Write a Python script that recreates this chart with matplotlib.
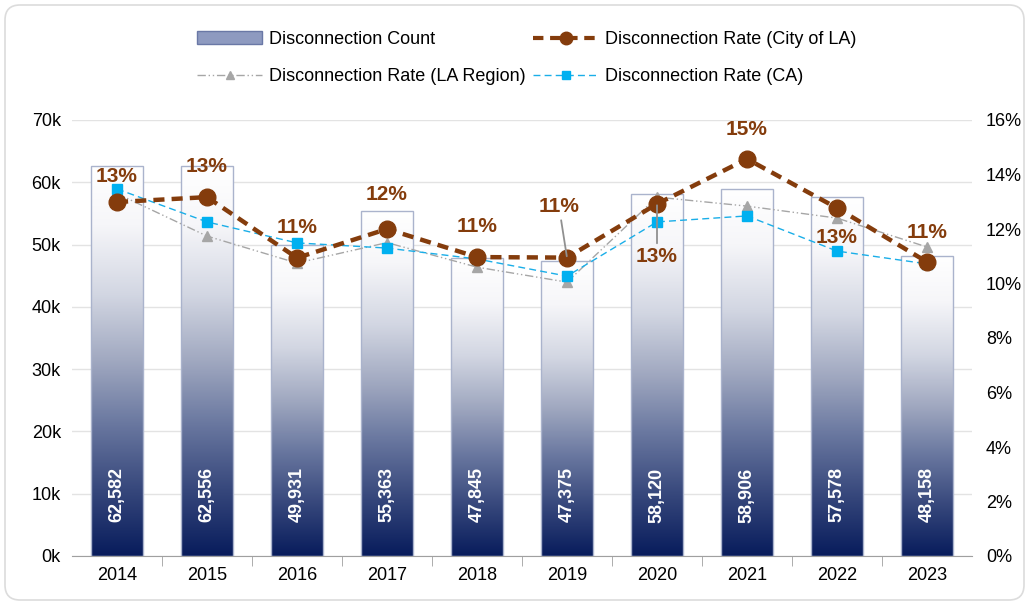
import matplotlib
matplotlib.use("Agg")
import matplotlib.pyplot as plt
import numpy as np
from matplotlib.colors import LinearSegmentedColormap
from matplotlib.patches import Patch, FancyBboxPatch
from matplotlib.lines import Line2D

years = ["2014", "2015", "2016", "2017", "2018", "2019", "2020", "2021", "2022", "2023"]
counts = [62582, 62556, 49931, 55363, 47845, 47375, 58120, 58906, 57578, 48158]
rate_city = [12.99, 13.17, 10.94, 12.0, 10.97, 10.95, 12.92, 14.57, 12.77, 10.79]
rate_region = [13.3, 11.74, 10.75, 11.5, 10.6, 10.05, 13.17, 12.84, 12.4, 11.34]
rate_ca = [13.47, 12.26, 11.49, 11.3, 10.9, 10.27, 12.26, 12.48, 11.19, 10.72]
left_ticks = [0, 10000, 20000, 30000, 40000, 50000, 60000, 70000]
left_labels = ["0k", "10k", "20k", "30k", "40k", "50k", "60k", "70k"]
right_ticks = [0, 2, 4, 6, 8, 10, 12, 14, 16]
right_labels = ["0%", "2%", "4%", "6%", "8%", "10%", "12%", "14%", "16%"]
city_labels = ["13%", "13%", "11%", "12%", "11%", "11%", "13%", "15%", "13%", "11%"]
label_offsets = [(0, 26), (0, 31), (0, 30), (0, 34), (0, 31), (-8, 51), (0, -53), (0, 29), (0, -29), (0, 29)]

plt.rcParams['font.family'] = ['Liberation Sans', 'DejaVu Sans']

fig = plt.figure(figsize=(10.29, 6.05), dpi=100)
ax = fig.add_axes([72/1029, 49/605, 900/1029, 436/605])
ax2 = ax.twinx()

x = np.arange(len(years))
w = 0.57
cmap = LinearSegmentedColormap.from_list("g", [(0, "#081c5c"), (0.16, "#34457a"), (0.34, "#6a78a0"),
                                               (0.5, "#a0a8c0"), (0.67, "#d2d6e2"), (0.85, "#f6f6f9"),
                                               (1, "#ffffff")])
grad = np.linspace(0, 1, 256).reshape(-1, 1)
ax.bar(x, counts, w, color="none", edgecolor="#aab3cc", linewidth=1, zorder=3)
for xi, c in zip(x, counts):
    ax.imshow(grad, cmap=cmap, origin="lower", aspect="auto",
              extent=[xi - w/2, xi + w/2, 0, c], zorder=2)
    ax.text(xi, 9800, f"{c:,}", rotation=90, ha="center", va="center",
            color="white", fontsize=13, fontweight="bold", zorder=4)

ax.set_xlim(-0.5, len(years) - 0.5)
ax.set_ylim(0, 70000)
ax.set_yticks(left_ticks)
ax.set_yticklabels(left_labels, fontsize=13)
ax.grid(axis="y", color="#e3e3e3", linewidth=1, zorder=0)
ax.set_axisbelow(True)
ax.set_xticks(x)
ax.set_xticklabels(years, fontsize=13)
ax.set_xticks(np.arange(0.5, len(years) - 1, 1), minor=True)
ax.tick_params(axis="x", which="major", length=0, pad=8)
ax.tick_params(axis="x", which="minor", length=7, color="#a0a0a0", direction="out")
ax.tick_params(axis="y", length=0, pad=8)
for s in ["top", "left", "right"]:
    ax.spines[s].set_visible(False)
    ax2.spines[s].set_visible(False)
ax.spines["bottom"].set_color("#a0a0a0")
ax2.spines["bottom"].set_visible(False)

ax2.set_ylim(0, 16)
ax2.set_yticks(right_ticks)
ax2.set_yticklabels(right_labels, fontsize=13)
ax2.tick_params(axis="y", length=0, pad=10)

ax2.plot(x, rate_region, color="#a6a6a6", linestyle=(0, (6, 2, 1, 2, 1, 2)), linewidth=1,
         marker="^", markersize=7, markerfacecolor="#a6a6a6", markeredgecolor="#a6a6a6", zorder=3)
ax2.plot(x, rate_ca, color="#1aaee8", linestyle=(0, (5, 3)), linewidth=1,
         marker="s", markersize=7, markerfacecolor="#00b0f0", markeredgecolor="#00b0f0", zorder=4)
ax2.plot(x, rate_city, color="#843c0c", linestyle=(0, (2.5, 1.6)), linewidth=3.2,
         marker="o", markersize=12, markerfacecolor="#843c0c", markeredgecolor="#843c0c", zorder=5)

for i, (lab, off) in enumerate(zip(city_labels, label_offsets)):
    kw = dict(xytext=off, textcoords="offset pixels", ha="center", va="center",
              fontsize=15, fontweight="bold", color="#843c0c", zorder=6)
    if i in (5, 6):
        kw["arrowprops"] = dict(arrowstyle="-", color="#909090", lw=1.3, shrinkA=1, shrinkB=1)
    ax2.annotate(lab, (x[i], rate_city[i]), **kw)

h_count = Patch(facecolor="#8e9ac0", edgecolor="#6a78a6")
h_city = Line2D([], [], color="#843c0c", linestyle=(0, (2.5, 1.6)), linewidth=3, marker="o", markersize=9)
h_region = Line2D([], [], color="#a6a6a6", linestyle=(0, (6, 2, 1, 2, 1, 2)), linewidth=1, marker="^", markersize=6)
h_ca = Line2D([], [], color="#1aaee8", linestyle=(0, (5, 3)), linewidth=1, marker="s", markersize=6,
              markerfacecolor="#00b0f0", markeredgecolor="#00b0f0")
handles = [h_count, h_region, h_city, h_ca]
labels = ["Disconnection Count", "Disconnection Rate (LA Region)",
          "Disconnection Rate (City of LA)", "Disconnection Rate (CA)"]
fig.legend(handles, labels, ncol=2, loc="center", bbox_to_anchor=(527/1029, 1 - 58/605),
           frameon=False, fontsize=13, handlelength=3.6, columnspacing=0.4, labelspacing=1.1,
           handletextpad=0.4)

fig.patches.append(FancyBboxPatch((0.05, 0.05), 10.19, 5.95, boxstyle="round,pad=0,rounding_size=0.15",
                                  transform=fig.dpi_scale_trans, fc="none", ec="#dcdcdc", lw=1.2))

fig.savefig("out.png", dpi=100)
